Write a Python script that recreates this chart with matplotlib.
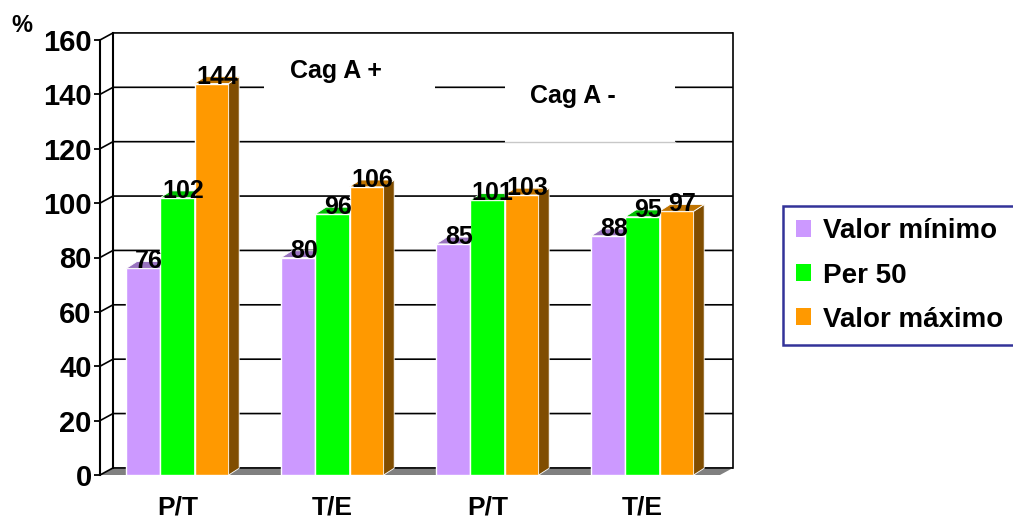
import matplotlib
matplotlib.use("Agg")
import matplotlib.pyplot as plt
from matplotlib.patches import Polygon, Patch, Rectangle
import numpy as np

plt.rcParams['font.family'] = ['Liberation Sans', 'DejaVu Sans']
plt.rcParams['font.weight'] = 'bold'

# data
categories = ['P/T', 'T/E', 'P/T', 'T/E']
series = ['Valor mínimo', 'Per 50', 'Valor máximo']
valor_minimo = [76, 80, 85, 88]
per_50 = [102, 96, 101, 95]
valor_maximo = [144, 106, 103, 97]
values = [valor_minimo, per_50, valor_maximo]
colors = ['#cc99ff', '#00ff00', '#ff9900']
yticks = [0, 20, 40, 60, 80, 100, 120, 140, 160]

fig = plt.figure(figsize=(10.13, 5.23), dpi=100)
ax = fig.add_axes([100 / 1013, 48 / 523, 620 / 1013, 435 / 523])
x0, x1 = -0.5, 3.5
ax.set_xlim(x0, x1)
ax.set_ylim(0, 160)

# depth of the wall / bars (data units)
wdx, wdy = 0.084, 2.6
bdx, bdy = 0.068, 2.5

# floor
ax.add_patch(Polygon([(x0, 0), (x1, 0), (x1 + wdx, wdy), (x0 + wdx, wdy)],
                     closed=True, facecolor='#808080', edgecolor='none',
                     clip_on=False, zorder=1))
# gridlines on side and back wall
for v in yticks:
    ax.plot([x0, x0 + wdx, x1 + wdx], [v, v + wdy, v + wdy], color='black',
            lw=1.2, clip_on=False, zorder=1.5, solid_capstyle='butt')
ax.plot([x0 + wdx, x0 + wdx], [wdy, 160 + wdy], color='black', lw=1.5,
        clip_on=False, zorder=1.5)
ax.plot([x1 + wdx, x1 + wdx], [wdy, 160 + wdy], color='black', lw=1.2,
        clip_on=False, zorder=1.5)

# boxes for the group titles
ax.add_patch(Rectangle((0.56, 141), 1.1, 17, facecolor='white',
                       edgecolor='none', zorder=2, clip_on=False))
ax.text(1.02, 148.5, 'Cag A +', ha='center', va='center', fontsize=18,
        fontweight='bold', zorder=2.1)
ax.add_patch(Rectangle((2.11, 122.3), 1.1, 28, facecolor='white',
                       edgecolor='none', zorder=2, clip_on=False))
ax.plot([2.11, 3.21], [122.4, 122.4], color='#c8c8c8', lw=1, zorder=2.05)
ax.text(2.55, 139.5, 'Cag A -', ha='center', va='center', fontsize=18,
        fontweight='bold', zorder=2.1)

# 3D-looking bars
w = 0.22
offsets = [-0.22, 0.0, 0.22]
xs = np.arange(len(categories))
for i, (vals, c) in enumerate(zip(values, colors)):
    rgb = np.array(matplotlib.colors.to_rgb(c))
    side = rgb * 0.5
    top = rgb * 0.75
    z = 3 + i
    for xc, v in zip(xs + offsets[i], vals):
        ax.bar(xc, v, width=w, color=c, edgecolor='white', linewidth=1,
               zorder=z)
        r = xc + w / 2
        l = xc - w / 2
        ax.add_patch(Polygon([(r, 0), (r + bdx, bdy), (r + bdx, v + bdy), (r, v)],
                             closed=True, facecolor=side, edgecolor='white',
                             linewidth=0.6, zorder=z, clip_on=False))
        ax.add_patch(Polygon([(l, v), (r, v), (r + bdx, v + bdy), (l + bdx, v + bdy)],
                             closed=True, facecolor=top, edgecolor='white',
                             linewidth=0.6, zorder=z, clip_on=False))
        ax.text(xc + bdx / 2, v, str(v), ha='center', va='baseline',
                fontsize=18, fontweight='bold', zorder=10)

# axes styling
for s in ['top', 'right', 'bottom']:
    ax.spines[s].set_visible(False)
ax.spines['left'].set_linewidth(1.5)
ax.spines['left'].set_zorder(2)
ax.set_yticks(yticks)
ax.set_yticklabels([str(t) for t in yticks], fontsize=21, fontweight='bold')
ax.tick_params(axis='y', length=4, width=1.3, pad=2)
ax.set_xticks(xs)
ax.set_xticklabels(categories, fontsize=19, fontweight='bold')
ax.tick_params(axis='x', length=0, pad=15)
ax.patch.set_visible(False)

fig.text(22 / 1013, 1 - 25 / 523, '%', ha='center', va='center',
         fontsize=17, fontweight='bold')

handles = [Patch(facecolor=c, edgecolor='none') for c in colors]
leg = fig.legend(handles, series, loc='upper left',
                 bbox_to_anchor=(783 / 1013, 1 - 206 / 523),
                 prop={'size': 20, 'weight': 'bold'}, frameon=True,
                 fancybox=False, handlelength=0.55, handleheight=0.55,
                 handletextpad=0.45, labelspacing=0.65, borderpad=0.45,
                 borderaxespad=0)
leg.get_frame().set_edgecolor('#000080')
leg.get_frame().set_linewidth(1.8)

fig.savefig('out.png', dpi=100)
